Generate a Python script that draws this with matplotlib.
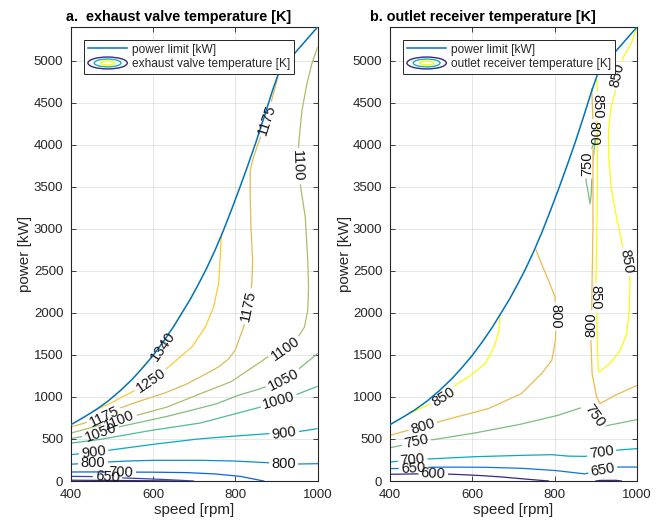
import numpy as np
import matplotlib
matplotlib.use("Agg")
import matplotlib.pyplot as plt
from matplotlib.path import Path
from matplotlib.transforms import IdentityTransform
from matplotlib.patches import Ellipse
from matplotlib.legend_handler import HandlerBase
from matplotlib.lines import Line2D
from matplotlib.colors import LinearSegmentedColormap, Normalize

plt.rcParams['font.family'] = ['Liberation Sans', 'DejaVu Sans']

# ---------------------------------------------------------------- data
speed_ticks = [400, 600, 800, 1000]
power_ticks = [0, 500, 1000, 1500, 2000, 2500, 3000, 3500, 4000, 4500, 5000]

limit_speed = [400, 430, 460, 490, 520, 550, 575, 600, 625, 650, 670, 690, 710, 730, 750, 770,
               790, 810, 830, 850, 870, 890, 905, 950, 1000]
limit_power = [670, 755, 845, 950, 1075, 1215, 1350, 1495, 1660, 1840, 2000, 2160, 2340, 2530, 2740, 2970,
               3220, 3480, 3750, 4030, 4330, 4640, 4850, 5120, 5400]

# (a) exhaust valve temperature contours: pieces of (speed, power)
ev_levels = [600, 650, 700, 800, 900, 1000, 1050, 1100, 1175, 1250, 1340]
ev_600 = [[(400, 9), (480, 7), (560, 4), (640, 1), (680, 0)]]
ev_650 = [[(400, 55), (445, 53), (489, 48), (530, 36), (575, 28), (617, 20), (660, 10), (698, 0)]]
ev_700 = [[(400, 107), (460, 108), (522, 106), (600, 105), (680, 100), (750, 84), (812, 55), (869, 0)]]
ev_800 = [[(400, 200), (453, 214), (488, 226), (540, 238), (601, 246), (715, 246), (796, 238),
           (877, 218), (917, 206), (950, 202), (1000, 206)]]
ev_900 = [[(400, 313), (430, 330), (457, 345), (491, 365), (600, 436), (710, 500), (800, 535),
           (881, 563), (919, 572), (954, 588), (1000, 623)]]
ev_1000 = [[(400, 450), (471, 495), (593, 600), (715, 690), (800, 800), (869, 890), (905, 958),
            (950, 1031), (1000, 1126)]]
ev_1050 = [[(400, 505), (440, 540), (473, 571), (515, 642), (560, 690), (634, 769), (700, 850),
            (755, 920), (807, 1019), (861, 1098), (917, 1200), (950, 1317), (1000, 1515)]]
ev_1100 = [[(400, 570), (460, 650), (517, 722), (560, 781), (634, 880), (715, 1039), (788, 1178),
            (835, 1330), (877, 1470), (921, 1574), (950, 1693), (968, 1831), (976, 2030), (978, 2307),
            (976, 2624), (970, 3140), (960, 3457), (952, 3746), (954, 4012), (962, 4408), (974, 4725),
            (986, 4963), (1000, 5161)]]
ev_1175 = [[(400, 642), (440, 700), (481, 765), (515, 861), (570, 955), (630, 1050), (680, 1150),
            (727, 1270), (760, 1360), (783, 1450), (800, 1560), (808, 1673), (820, 1832), (832, 2078),
            (840, 2347), (842, 2624), (838, 3000), (836, 3400), (836, 3694), (844, 3853), (861, 4091),
            (876, 4300), (890, 4560), (903, 4800)]]
ev_1250 = [[(455, 835), (500, 935), (548, 1059), (595, 1190), (637, 1356), (694, 1594), (727, 1832),
            (747, 2070), (759, 2347), (763, 2650), (765, 2862), (767, 2950)]]
ev_1340 = [[(572, 1352), (590, 1440), (610, 1560), (630, 1690), (650, 1840), (670, 1990)]]

ev_label_level = [1340, 1250, 1175, 1175, 1175, 1100, 1100, 1100, 1050, 1050, 1000, 900, 900, 800, 800, 700, 650]
ev_label_speed = [623, 595, 481, 832, 876, 517, 921, 952, 473, 917, 905, 455, 919, 453, 917, 522, 489]
ev_label_power = [1605, 1190, 765, 2078, 4300, 722, 1574, 3746, 571, 1200, 958, 340, 572, 214, 206, 106, 50]
ev_label_angle = [55, 34, 25, 78, 72, 22, 35, -88, 20, 27, 16, 8, 8, 0, 0, -2, -5]

# (b) outlet receiver temperature contours
or_levels = [600, 650, 700, 750, 800, 850]
or_600 = [[(400, 80), (460, 84), (505, 86), (554, 80), (620, 65), (671, 48), (736, 20), (785, 0)],
          [(900, 0), (910, 7), (950, 8), (962, 0)]]
or_650 = [[(400, 147), (430, 150), (457, 155), (489, 164), (560, 165), (631, 163), (720, 151), (801, 125),
           (873, 85), (917, 130), (955, 166), (1000, 166)]]
or_700 = [[(400, 226), (430, 240), (455, 252), (493, 262), (606, 289), (720, 305), (793, 313), (833, 296),
           (875, 293), (914, 340), (955, 368), (1000, 385)]]
or_750 = [[(400, 396), (435, 430), (464, 474), (505, 492), (606, 571), (716, 674), (808, 781), (882, 900),
           (896, 775), (922, 654), (1000, 730)],
          [(900, 4072), (890, 3953), (880, 3800), (876, 3576), (882, 3418), (886, 3299), (889, 3420),
           (891, 3700), (896, 3950), (900, 4072)]]
or_800 = [[(400, 543), (440, 598), (480, 645), (517, 702), (560, 760), (639, 861), (719, 1039), (768, 1277),
           (793, 1435), (802, 1673), (803, 1850), (801, 1958), (801, 2188), (785, 2386), (770, 2560), (755, 2744)],
          [(890, 4667), (893, 4290), (893, 4131), (893, 3933), (893, 3000), (891, 2400), (890, 2030), (888, 1855),
           (888, 1673), (891, 1276), (902, 999), (910, 920), (947, 1019), (1000, 1138)]]
or_850 = [[(446, 801), (499, 920), (531, 1000), (558, 1138), (590, 1237), (631, 1395), (653, 1594),
           (665, 1792), (667, 1970)],
          [(902, 4780), (904, 4626), (904, 4457), (904, 4290), (904, 3497), (902, 2800), (900, 2307), (899, 2180),
           (902, 2030), (904, 1633), (906, 1316), (908, 1296), (938, 1415), (959, 1554), (975, 1752), (981, 2030),
           (983, 2386), (975, 2610), (967, 2744), (959, 2937), (947, 3219), (937, 3497), (931, 3894), (931, 4171),
           (937, 4448), (947, 4626), (951, 4825), (967, 5042), (986, 5202), (1000, 5400)]]

or_label_level = [850, 800, 750, 700, 650, 600, 700, 650, 750, 800, 800, 850, 800, 850, 750, 850, 850]
or_label_speed = [531, 480, 464, 455, 457, 505, 914, 917, 896, 802, 888, 899, 893, 904, 878, 975, 951]
or_label_power = [1000, 645, 474, 252, 155, 86, 340, 128, 775, 1958, 1855, 2180, 4131, 4457, 3775, 2610, 4825]
or_label_angle = [32, 17, 12, 5, 3, -3, 8, 10, -55, -90, 90, -90, -90, -90, 90, -80, 77]

titles = ["a.  exhaust valve temperature [K]", "b. outlet receiver temperature [K]"]
legend_names = ["exhaust valve temperature [K]", "outlet receiver temperature [K]"]

# ---------------------------------------------------------------- style
parula_anchor = [
    (0 / 63, (0.2081, 0.1663, 0.5292)), (4 / 63, (0.1959, 0.2645, 0.7279)),
    (7 / 63, (0.0591, 0.3598, 0.8683)), (10 / 63, (0.0165, 0.4266, 0.8786)),
    (15 / 63, (0.0779, 0.5040, 0.8384)), (20 / 63, (0.0343, 0.5966, 0.8199)),
    (25 / 63, (0.0267, 0.6642, 0.7607)), (30 / 63, (0.1453, 0.7098, 0.6646)),
    (35 / 63, (0.3482, 0.7424, 0.5473)), (40 / 63, (0.5709, 0.7485, 0.4494)),
    (45 / 63, (0.7525, 0.7384, 0.3768)), (50 / 63, (0.9139, 0.7258, 0.3063)),
    (53 / 63, (0.9938, 0.7455, 0.2403)), (56 / 63, (0.9880, 0.8066, 0.1794)),
    (60 / 63, (0.9589, 0.8949, 0.1132)), (63 / 63, (0.9763, 0.9831, 0.0538)),
]
parula = LinearSegmentedColormap.from_list("parula", parula_anchor)
AXC = '#262626'
LIMIT_C = '#0072BD'
LABEL_FS = 10.5

W, H = 671, 522
fig = plt.figure(figsize=(W / 100, H / 100), dpi=100)
renderer = fig.canvas.get_renderer()


class HandlerContourIcon(HandlerBase):
    def create_artists(self, legend, orig_handle, xdescent, ydescent, width, height, fontsize, trans):
        cx = width / 2 - xdescent
        cy = height / 2 - ydescent
        arts = []
        for fw, fh, c in ((1.0, 1.3, parula(0.0)), (0.68, 0.85, parula(0.45)), (0.36, 0.42, parula(1.0))):
            arts.append(Ellipse((cx, cy), width * fw, height * fh, fill=False, edgecolor=c,
                                linewidth=1.0, transform=trans))
        return arts


def draw_panel(rect, levels, lines, lab_level, lab_speed, lab_power, lab_angle,
               title, title_x, legend_name, ylabel_x):
    ax = fig.add_axes(rect)
    ax.set_xlim(400, 1000)
    ax.set_ylim(0, 5400)
    ax.set_xticks(speed_ticks)
    ax.set_yticks(power_ticks)
    ax.grid(True, color=AXC, alpha=0.13, linewidth=0.6)
    ax.set_axisbelow(True)
    for sp in ax.spines.values():
        sp.set_color(AXC)
        sp.set_linewidth(0.8)
    ax.tick_params(direction='in', length=3.5, width=0.6, top=True, right=True,
                   labelsize=9.5, colors=AXC, pad=5.5)
    ax.set_xlabel("speed [rpm]", fontsize=11, color=AXC)
    ax.set_ylabel("power [kW]", fontsize=11, color=AXC)
    ax.xaxis.set_label_coords(0.5, -0.048)
    ax.yaxis.set_label_coords(ylabel_x, 0.5)
    ax.set_title(title, fontsize=10.4, fontweight='bold', color='black',
                 loc='left', x=title_x, pad=4)

    norm = Normalize(min(levels), max(levels))

    # labels
    texts = {}
    for lv, sx, py, ang in zip(lab_level, lab_speed, lab_power, lab_angle):
        t = ax.text(sx, py, str(lv), fontsize=LABEL_FS, color='#141414', ha='center', va='center',
                    rotation=ang, rotation_mode='anchor', zorder=4)
        texts.setdefault(lv, []).append(t)

    bb = ax.bbox
    for lv, pieces in zip(levels, lines):
        verts = [(bb.x0, bb.y0), (bb.x1, bb.y0), (bb.x1, bb.y1), (bb.x0, bb.y1), (bb.x0, bb.y0)]
        codes = [Path.MOVETO, Path.LINETO, Path.LINETO, Path.LINETO, Path.CLOSEPOLY]
        for t in texts.get(lv, []):
            w, h, d = renderer.get_text_width_height_descent(t.get_text(), t.get_fontproperties(), ismath=False)
            cx, cy = ax.transData.transform(t.get_position())
            a = w / 2 + 2.5
            b = h / 2 + 1.5
            th = np.deg2rad(t.get_rotation())
            ct, st = np.cos(th), np.sin(th)
            corners = [(-a, -b), (-a, b), (a, b), (a, -b)]
            pts = [(cx + u * ct - v * st, cy + u * st + v * ct) for u, v in corners]
            verts += pts + [pts[0]]
            codes += [Path.MOVETO, Path.LINETO, Path.LINETO, Path.LINETO, Path.CLOSEPOLY]
        clip = Path(verts, codes)
        col = parula(norm(lv))
        for piece in pieces:
            xs = [p[0] for p in piece]
            ys = [p[1] for p in piece]
            ln, = ax.plot(xs, ys, color=col, linewidth=0.9, zorder=2, solid_joinstyle='round')
            ln.set_clip_path(clip, IdentityTransform())

    ax.plot(limit_speed, limit_power, color=LIMIT_C, linewidth=1.1, zorder=3, solid_joinstyle='round')

    h1 = Line2D([], [], color=LIMIT_C, linewidth=1.1)
    h2 = Line2D([], [])
    leg = ax.legend([h1, h2], ["power limit [kW]", legend_name], loc='upper left',
                    bbox_to_anchor=(0.054, 0.971), borderaxespad=0, fontsize=8.6,
                    handlelength=3.3, handleheight=0.8, handletextpad=0.4, borderpad=0.3,
                    labelspacing=0.2, fancybox=False, framealpha=1,
                    handler_map={h2: HandlerContourIcon()})
    leg.get_frame().set_edgecolor(AXC)
    leg.get_frame().set_linewidth(0.7)
    leg.set_zorder(10)
    for txt in leg.get_texts():
        txt.set_color(AXC)
    return ax


ev_lines = [ev_600, ev_650, ev_700, ev_800, ev_900, ev_1000, ev_1050, ev_1100, ev_1175, ev_1250, ev_1340]
or_lines = [or_600, or_650, or_700, or_750, or_800, or_850]

draw_panel([71 / W, 1 - 481 / H, 246.6 / W, 454 / H], ev_levels, ev_lines,
           ev_label_level, ev_label_speed, ev_label_power, ev_label_angle,
           titles[0], -0.019, legend_names[0], -0.157)
draw_panel([390 / W, 1 - 481 / H, 247 / W, 454 / H], or_levels, or_lines,
           or_label_level, or_label_speed, or_label_power, or_label_angle,
           titles[1], -0.081, legend_names[1], -0.154)

fig.savefig("out.png", dpi=100)
